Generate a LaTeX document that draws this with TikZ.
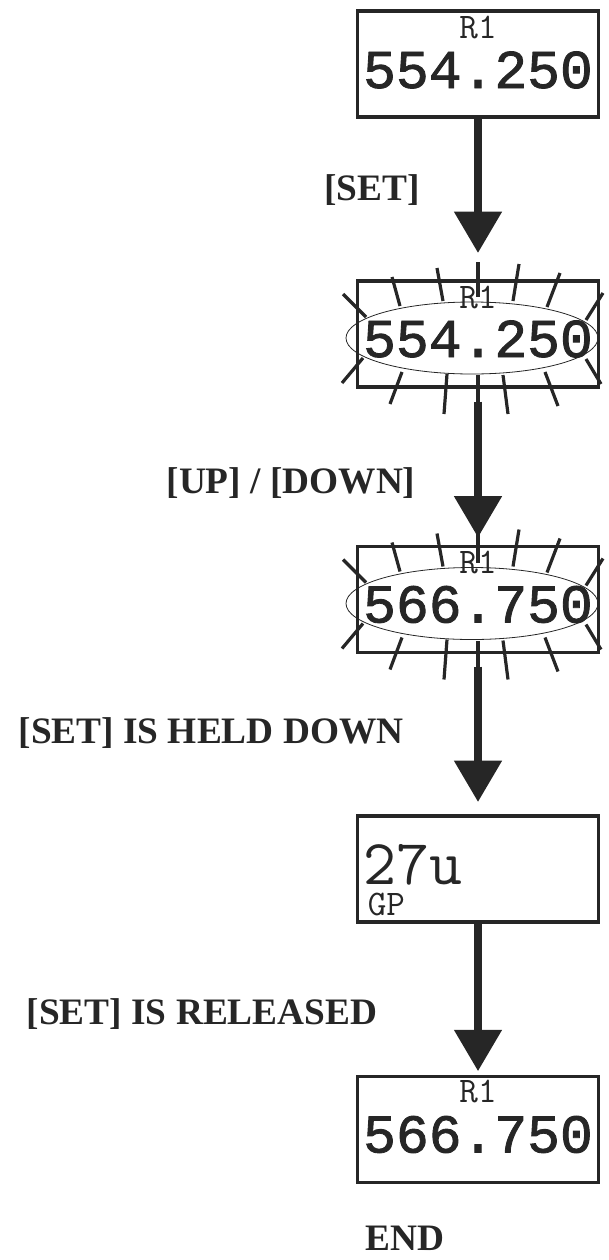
\documentclass[tikz,border=0pt]{standalone}
\usepackage{fontspec}
\setmainfont{Liberation Serif}
\newfontfamily\lcdfont[FakeBold=1.6]{Liberation Mono}
\usetikzlibrary{arrows.meta,positioning,calc}
\definecolor{ink}{HTML}{262626}

% blinking marks round a display
\newcommand{\flashrays}[1]{%
  \foreach \ax/\ay/\bx/\by in {-135/-40/-112/-17, -86/-57/-78/-28, -41/-66/-35/-33, 0/-72/0/-37,
      41/-70/35/-33, 82/-61/69/-27, 125/-41/108/-14,
      -136/49/-115/24, -88/70/-76/38, -34/80/-31/40, 0/75/0/41,
      30/80/25/41, 80/72/67/38, 123/50/108/25}
    \draw[ray] ([shift={(\ax,\ay)}]#1.center) -- ([shift={(\bx,\by)}]#1.center);
  \draw[ink,line width=0.6pt] ([shift={(-6,4)}]#1.center) ellipse [x radius=126, y radius=36];
}

\begin{document}
\begin{tikzpicture}[x=0.75pt,y=-0.75pt]
\tikzset{
  lcdbox/.style={draw=ink,line width=2.6pt,minimum width=180.75pt,minimum height=79.5pt,inner sep=0pt,outer sep=0pt},
  ray/.style={ink,line width=2.4pt},
  flow/.style={ink,line width=6pt,-{Triangle[length=31pt,width=34.5pt]}},
  keylabel/.style={font=\bfseries\fontsize{28}{30}\selectfont,text=ink,anchor=base,inner sep=0pt},
  digits/.style={font=\lcdfont\fontsize{41}{44}\selectfont,text=ink,anchor=base,inner sep=0pt,text height=26pt,text depth=0pt},
  chan/.style={font=\ttfamily\fontsize{27}{28}\selectfont\addfontfeatures{FakeBold=1},text=ink,anchor=base,inner sep=0pt,text height=13pt,text depth=0pt}
}
\useasboundingbox (0,0) rectangle (609,1260);

\node[lcdbox] (set1) at (478,64) {};
\node[chan] (ch1) at ([shift={(0,27)}]set1.north) {R1};
\node[digits] (fr1) at ([shift={(0,77)}]set1.north) {554.250};

\node[lcdbox] (set2) at (478,334) {};
\flashrays{set2}
\node[chan] (ch2) at ([shift={(0,27)}]set2.north) {R1};
\node[digits] (fr2) at ([shift={(0,76)}]set2.north) {554.250};

\node[lcdbox] (set3) at (478,599.5) {};
\flashrays{set3}
\node[chan] (ch3) at ([shift={(0,27)}]set3.north) {R1};
\node[digits] (fr3) at ([shift={(0,76)}]set3.north) {566.750};

\node[lcdbox] (set4) at (478,869) {};
\node[anchor=base west,inner sep=0pt,text=ink,text height=28pt,text depth=0pt,font=\ttfamily\fontsize{48}{50}\selectfont\addfontfeatures{FakeBold=3}] (fr4) at ([shift={(6,68)}]set4.north west) {27u};
\node[chan,anchor=base west] (gp4) at ([shift={(10,99)}]set4.north west) {GP};

\node[lcdbox] (set5) at (478,1129.5) {};
\node[chan] (ch5) at ([shift={(0,26)}]set5.north) {R1};
\node[digits] (fr5) at ([shift={(0,76)}]set5.north) {566.750};

\draw[flow,shorten >=21pt] (set1) -- (set2);
\draw[flow,shorten <=11pt,shorten >=6.75pt] (set2) -- (set3);
\draw[flow,shorten <=10.5pt,shorten >=10.5pt] (set3) -- (set4);
\draw[flow,shorten >=4pt] (set4) -- (set5);

\node[keylabel] (k1) at (372,200) {[SET]};
\node[keylabel] (k2) at (291,493) {[UP] / [DOWN]};
\node[keylabel] (k3) at (211,743) {[SET] IS HELD DOWN};
\node[keylabel] (k4) at (202,1024) {[SET] IS RELEASED};
\node[keylabel] (k5) at (405,1250) {END};
\end{tikzpicture}
\end{document}
